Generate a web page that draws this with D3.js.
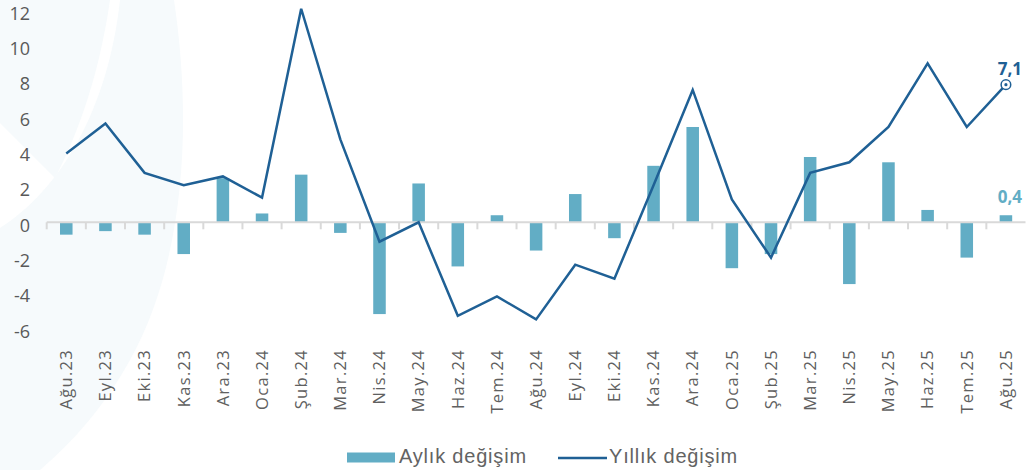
<!DOCTYPE html>
<html>
<head>
<meta charset="utf-8">
<script src="https://cdn.jsdelivr.net/npm/d3@7"></script>
<style>
  body { margin: 0; background: #fff; }
  svg { display: block; }
</style>
</head>
<body>
<div id="chart"></div>
<script>
// months (Ağu.23 - Ağu.25)
var months = ['Ağu.23', 'Eyl.23', 'Eki.23', 'Kas.23', 'Ara.23', 'Oca.24', 'Şub.24', 'Mar.24',
  'Nis.24', 'May.24', 'Haz.24', 'Tem.24', 'Ağu.24', 'Eyl.24', 'Eki.24', 'Kas.24', 'Ara.24',
  'Oca.25', 'Şub.25', 'Mar.25', 'Nis.25', 'May.25', 'Haz.25', 'Tem.25', 'Ağu.25'];

// Aylık değişim (bars)
var monthly = [-0.7, -0.5, -0.7, -1.8, 2.5, 0.5, 2.7, -0.6, -5.2, 2.2, -2.5, 0.4, -1.6,
  1.6, -0.9, 3.2, 5.4, -2.6, -1.8, 3.7, -3.5, 3.4, 0.7, -2.0, 0.4];

// Yıllık değişim (line)
var yearly = [3.9, 5.6, 2.8, 2.1, 2.6, 1.4, 12.1, 4.7, -1.1, 0.0, -5.3, -4.2, -5.5,
  -2.4, -3.2, 2.1, 7.5, 1.3, -2.0, 2.8, 3.4, 5.4, 9.0, 5.4, 7.8];

var yTicks = [-6, -4, -2, 0, 2, 4, 6, 8, 10, 12];
var seriesNames = ['Aylık değişim', 'Yıllık değişim'];
var lastLabels = ['0,4', '7,1'];

var barColor = '#62adc5',
  lineColor = '#1f6095',
  textColor = '#595959';

var vWidth = 1026,
  vHeight = 470;

var svg = d3
  .select('#chart')
  .append('svg')
  .attr('width', vWidth)
  .attr('height', vHeight);

// faint watermark in the background
var wm = svg.append('g').attr('fill', '#f6fafc');
wm.append('path').attr('d', 'M0,0 L110,0 C100,70 80,130 55,178 L0,123 Z');
wm.append('path').attr('d',
  'M120,0 L174,0 C192,120 186,260 130,360 C105,405 75,440 40,470 L0,470 L0,228 C60,190 108,110 120,0 Z');

var x = d3
  .scaleBand()
  .domain(months)
  .range([46.7, 1025.5])
  .paddingInner(0.68)
  .paddingOuter(0.34);

var y = d3.scaleLinear().domain([-6, 12]).range([328.2, 10.5]);

// y labels (no axis line)
svg.append('g')
  .selectAll('text')
  .data(yTicks)
  .enter()
  .append('text')
  .attr('x', 30)
  .attr('y', function(d) { return y(d) + 3; })
  .attr('dy', '0.35em')
  .attr('text-anchor', 'end')
  .attr('fill', textColor)
  .style('font-family', '"Open Sans", sans-serif')
  .style('font-size', '18px')
  .text(function(d) { return d; });

// bars
svg.append('g')
  .selectAll('rect')
  .data(monthly)
  .enter()
  .append('rect')
  .attr('x', function(d, i) { return x(months[i]); })
  .attr('y', function(d) { return y(Math.max(0, d)); })
  .attr('width', x.bandwidth())
  .attr('height', function(d) { return Math.abs(y(d) - y(0)); })
  .attr('fill', barColor);

// zero axis with ticks between categories
var step = x.step();
var xAxis = svg.append('g').attr('transform', 'translate(0,' + y(0) + ')');
xAxis.append('line')
  .attr('x1', x.range()[0])
  .attr('x2', x.range()[1])
  .attr('stroke', '#d9d9d9')
  .attr('stroke-width', 2);
xAxis.selectAll('line.tick')
  .data(d3.range(months.length))
  .enter()
  .append('line')
  .attr('class', 'tick')
  .attr('x1', function(i) { return x.range()[0] + i * step; })
  .attr('x2', function(i) { return x.range()[0] + i * step; })
  .attr('y1', 0)
  .attr('y2', 7)
  .attr('stroke', '#d9d9d9')
  .attr('stroke-width', 2);

// category labels
svg.append('g')
  .selectAll('text')
  .data(months)
  .enter()
  .append('text')
  .attr('transform', function(d) {
    return 'translate(' + (x(d) + x.bandwidth() / 2) + ',349) rotate(-90)';
  })
  .attr('dy', '0.35em')
  .attr('text-anchor', 'end')
  .attr('fill', '#606060')
  .style('font-family', '"Open Sans", sans-serif')
  .style('font-size', '16.5px')
  .style('letter-spacing', '1.3px')
  .text(function(d) { return d; });

// line
var line = d3
  .line()
  .x(function(d, i) { return x(months[i]) + x.bandwidth() / 2; })
  .y(function(d) { return y(d); });

svg.append('path')
  .datum(yearly)
  .attr('d', line)
  .attr('fill', 'none')
  .attr('stroke', lineColor)
  .attr('stroke-width', 2.5)
  .attr('stroke-linejoin', 'miter');

// last point marker + labels
var last = months.length - 1;
var lx = x(months[last]) + x.bandwidth() / 2;
svg.append('circle')
  .attr('cx', lx)
  .attr('cy', y(yearly[last]))
  .attr('r', 4.8)
  .attr('fill', '#fff')
  .attr('stroke', lineColor)
  .attr('stroke-width', 1.5);
svg.append('circle')
  .attr('cx', lx)
  .attr('cy', y(yearly[last]))
  .attr('r', 1.6)
  .attr('fill', lineColor);

svg.append('text')
  .attr('x', 1022)
  .attr('y', y(yearly[last]) - 10)
  .attr('text-anchor', 'end')
  .attr('fill', lineColor)
  .style('font-family', '"Open Sans", sans-serif')
  .style('font-size', '17px')
  .style('font-weight', 'bold')
  .text(lastLabels[1]);

svg.append('text')
  .attr('x', 1022)
  .attr('y', y(monthly[last]) - 12)
  .attr('text-anchor', 'end')
  .attr('fill', barColor)
  .style('font-family', '"Open Sans", sans-serif')
  .style('font-size', '17px')
  .style('font-weight', 'bold')
  .text(lastLabels[0]);

// legend
var legend = svg.append('g')
  .style('font-family', '"Liberation Sans", Arial, sans-serif')
  .style('font-size', '20px')
  .style('letter-spacing', '0.8px')
  .attr('fill', '#636363');

legend.append('rect')
  .attr('x', 347)
  .attr('y', 452.5)
  .attr('width', 48)
  .attr('height', 10)
  .attr('fill', barColor);
legend.append('text')
  .attr('x', 399)
  .attr('y', 463)
  .text(seriesNames[0]);

legend.append('line')
  .attr('x1', 558)
  .attr('x2', 607)
  .attr('y1', 458)
  .attr('y2', 458)
  .attr('stroke', lineColor)
  .attr('stroke-width', 2.5);
legend.append('text')
  .attr('x', 609)
  .attr('y', 463)
  .text(seriesNames[1]);
</script>
</body>
</html>
